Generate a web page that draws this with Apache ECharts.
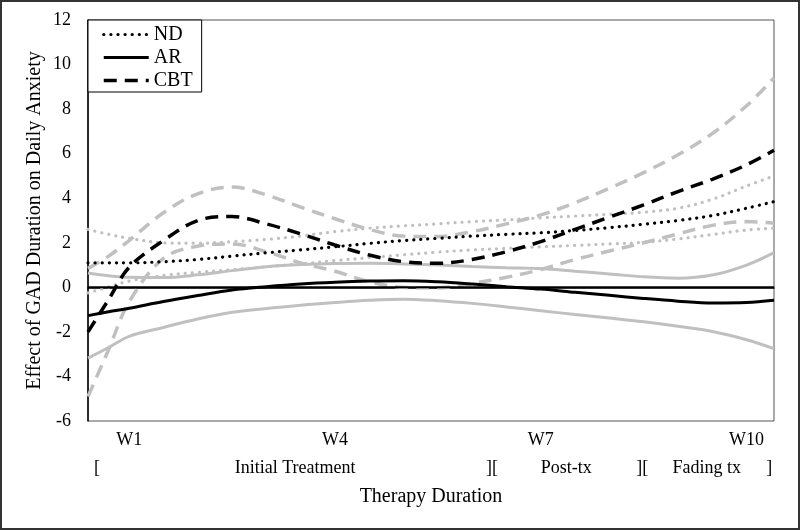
<!DOCTYPE html>
<html><head><meta charset="utf-8">
<script src="https://cdn.jsdelivr.net/npm/echarts@6/dist/echarts.min.js"></script>
<style>html,body{margin:0;padding:0;background:#fff}#c{width:800px;height:530px}</style>
</head><body><div id="c"></div>
<script>
// x positions in weeks
const WEEKS  = [0.4, 0.7, 1, 1.5, 2, 2.5, 3, 3.5, 4, 4.5, 5, 5.5, 6, 6.5, 7, 7.5, 8, 8.5, 9, 9.5, 10, 10.4];
const ND     = [1.1, 1.1, 1.1, 1.15, 1.25, 1.4, 1.55, 1.68, 1.82, 1.97, 2.1, 2.2, 2.3, 2.38, 2.45, 2.55, 2.68, 2.83, 3.0, 3.22, 3.55, 3.85];
const ND_UP  = [2.6, 2.38, 2.2, 2.0, 1.98, 2.05, 2.15, 2.3, 2.5, 2.65, 2.76, 2.85, 2.95, 3.03, 3.12, 3.2, 3.28, 3.37, 3.55, 3.95, 4.55, 5.0];
const ND_LO  = [-0.25, 0.02, 0.28, 0.53, 0.67, 0.79, 0.92, 1.05, 1.2, 1.33, 1.46, 1.58, 1.68, 1.75, 1.82, 1.88, 1.95, 2.02, 2.17, 2.37, 2.57, 2.66];
const AR     = [-1.27, -1.1, -0.94, -0.64, -0.37, -0.12, 0.03, 0.15, 0.23, 0.28, 0.3, 0.25, 0.15, 0.03, -0.08, -0.22, -0.36, -0.5, -0.62, -0.7, -0.68, -0.58];
const AR_UP  = [0.64, 0.52, 0.45, 0.44, 0.56, 0.75, 0.92, 1.02, 1.07, 1.08, 1.05, 1.0, 0.93, 0.88, 0.84, 0.72, 0.6, 0.47, 0.41, 0.55, 1.0, 1.56];
const AR_LO  = [-3.18, -2.7, -2.2, -1.8, -1.42, -1.12, -0.95, -0.8, -0.68, -0.58, -0.53, -0.6, -0.72, -0.88, -1.05, -1.22, -1.38, -1.55, -1.75, -1.98, -2.35, -2.75];
const CBT    = [-2.0, -0.55, 0.9, 2.1, 3.0, 3.18, 2.85, 2.4, 1.9, 1.45, 1.15, 1.08, 1.25, 1.6, 2.05, 2.6, 3.15, 3.7, 4.3, 4.85, 5.5, 6.15];
const CBT_UP = [0.85, 1.4, 2.1, 3.35, 4.2, 4.5, 4.15, 3.6, 3.08, 2.6, 2.3, 2.28, 2.5, 2.85, 3.25, 3.8, 4.45, 5.15, 5.95, 6.9, 8.15, 9.4];
const CBT_LO = [-4.9, -2.8, -0.65, 1.3, 1.85, 1.95, 1.6, 1.1, 0.72, 0.25, 0.0, -0.02, 0.18, 0.45, 0.8, 1.25, 1.63, 2.0, 2.4, 2.78, 2.95, 2.88];
const ZERO_X = [0.4, 10.4];
const ZERO_Y = [0, 0];

const W_TICKS = [1, 4, 7, 10];
const W_LABELS = ['W1', 'W4', 'W7', 'W10'];
const PHASE_POS = [0.53, 3.42, 6.29, 7.37, 8.48, 9.42, 10.33];
const PHASE_LABELS = ['[', 'Initial Treatment', '][', 'Post-tx', '][', 'Fading tx', ']'];

const FONT = '"Liberation Serif", "Times New Roman", serif';
const GRAY = '#c0c0c0';
const DOT = [0.1, 7];
const DASH = [13, 8];

function pts(xs, ys) { return xs.map((x, i) => [x, ys[i]]); }
function line(name, ys, color, type, width, cap, z) {
  return {
    name: name, type: 'line', data: pts(WEEKS, ys), symbol: 'none', showSymbol: false,
    smooth: 0.35, silent: true, z: z,
    lineStyle: { color: color, type: type, width: width, cap: cap || 'butt' },
    itemStyle: { color: color }
  };
}

const chart = echarts.init(document.getElementById('c'), null, { renderer: 'canvas' });
chart.setOption({
  animation: false,
  backgroundColor: '#fff',
  textStyle: { fontFamily: FONT, color: '#000' },
  grid: { left: 88, right: 26, top: 20, bottom: 109, show: true, borderColor: '#555', borderWidth: 1, backgroundColor: 'transparent' },
  legend: {
    data: ['ND', 'AR', 'CBT'], orient: 'vertical', left: 88, top: 20,
    itemWidth: 45, itemHeight: 16, itemGap: 0, padding: [3, 9, 0, 14],
    borderColor: '#000', borderWidth: 1, backgroundColor: '#fff', borderRadius: 0,
    itemStyle: { opacity: 0 },
    lineStyle: { width: 'inherit', type: 'inherit', cap: 'inherit' },
    textStyle: { fontFamily: FONT, fontSize: 20, color: '#000', lineHeight: 23, height: 23 }, selectedMode: false
  },
  xAxis: [{
    type: 'value', min: 0.4, max: 10.4,
    axisLine: { show: true, lineStyle: { color: '#000', width: 1.5 } },
    axisTick: { show: false }, splitLine: { show: false },
    axisLabel: { customValues: W_TICKS, formatter: v => W_LABELS[W_TICKS.indexOf(v)], margin: 10, fontSize: 18, fontFamily: FONT, color: '#000' },
    name: 'Therapy Duration', nameLocation: 'middle', nameGap: 66, nameMoveOverlap: false,
    nameTextStyle: { fontSize: 20, fontFamily: FONT, color: '#000' }
  }, {
    type: 'value', min: 0.4, max: 10.4, position: 'bottom',
    axisLine: { show: false }, axisTick: { show: false }, splitLine: { show: false },
    axisLabel: { customValues: PHASE_POS, formatter: v => PHASE_LABELS[PHASE_POS.indexOf(v)], margin: 38, fontSize: 18, fontFamily: FONT, color: '#000' }
  }],
  yAxis: {
    type: 'value', min: -6, max: 12, interval: 2,
    axisLine: { show: true, lineStyle: { color: '#000', width: 1.5 } },
    axisTick: { show: false }, splitLine: { show: false },
    axisLabel: { margin: 17, fontSize: 18, fontFamily: FONT, color: '#000' },
    name: 'Effect of GAD Duration on Daily Anxiety', nameLocation: 'middle', nameGap: 43, nameMoveOverlap: false,
    nameTextStyle: { fontSize: 20, fontFamily: FONT, color: '#000' }
  },
  graphic: [{
    type: 'rect', shape: { x: 1, y: 1, width: 798, height: 528 },
    style: { fill: 'none', stroke: '#333', lineWidth: 2 }, silent: true, z: 100
  }],
  series: [
    line('ND upper', ND_UP, GRAY, DOT, 3.2, 'round', 2),
    line('ND lower', ND_LO, GRAY, DOT, 3.2, 'round', 2),
    line('AR upper', AR_UP, GRAY, 'solid', 3, 'butt', 2),
    line('AR lower', AR_LO, GRAY, 'solid', 3, 'butt', 2),
    line('CBT upper', CBT_UP, GRAY, DASH, 3.5, 'butt', 2),
    line('CBT lower', CBT_LO, GRAY, DASH, 3.5, 'butt', 2),
    {
      name: 'zero', type: 'line', data: pts(ZERO_X, ZERO_Y), symbol: 'none', silent: true, z: 3,
      lineStyle: { color: '#000', width: 2 }
    },
    line('ND', ND, '#000', DOT, 3.2, 'round', 4),
    line('AR', AR, '#000', 'solid', 3, 'butt', 4),
    line('CBT', CBT, '#000', DASH, 3.5, 'butt', 4)
  ]
});
</script></body></html>
